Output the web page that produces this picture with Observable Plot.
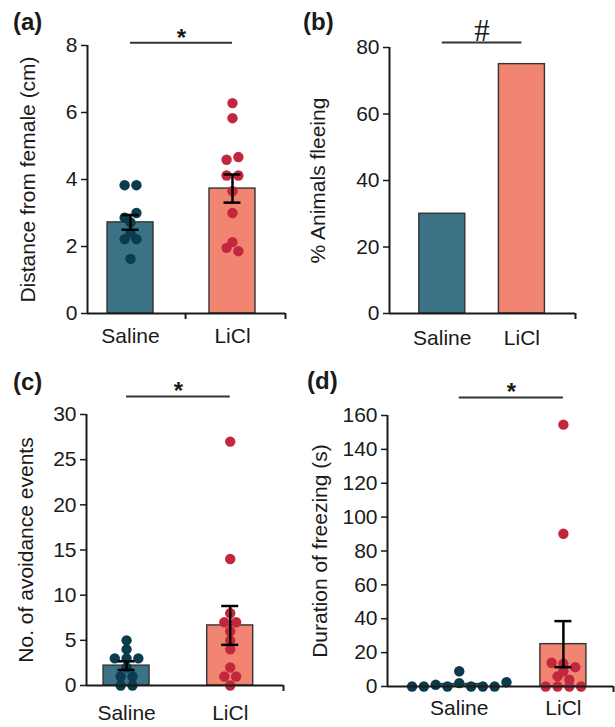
<!DOCTYPE html>
<html><head><meta charset="utf-8">
<script src="https://cdn.jsdelivr.net/npm/d3@7"></script>
<script src="https://cdn.jsdelivr.net/npm/@observablehq/plot@0.6"></script>
<style>
body{margin:0;background:#fff;}
#wrap{position:relative;width:615px;height:727px;font-family:"Liberation Sans",Arial,Helvetica,sans-serif;overflow:hidden;}
.panel{position:absolute;}
.letter{position:absolute;font-weight:bold;font-size:24px;line-height:24px;color:#1a1a1a;white-space:nowrap;}
</style></head><body><div id="wrap"></div>
<script>
// ---------- data ----------
const categories = ["Saline", "LiCl"];
const panelLetters = ["(a)", "(b)", "(c)", "(d)"];
const yAxisLabels = ["Distance from female (cm)", "% Animals fleeing", "No. of avoidance events", "Duration of freezing (s)"];
const yTicksA = [0, 2, 4, 6, 8];
const yTicksB = [0, 20, 40, 60, 80];
const yTicksC = [0, 5, 10, 15, 20, 25, 30];
const yTicksD = [0, 20, 40, 60, 80, 100, 120, 140, 160];

// (a) distance from female (cm)
const distanceSaline = [3.83, 3.83, 2.86, 3.0, 2.72, 2.22, 2.22, 2.40, 1.63];
const distanceLiCl = [6.28, 5.83, 4.59, 4.67, 4.12, 4.12, 3.65, 3.0, 2.13, 1.96, 1.86];
const distanceMean = [2.72, 3.73];
const distanceSem = [0.22, 0.42];

// (b) % animals fleeing
const fleeingPercent = [30, 75];

// (c) number of avoidance events
const avoidSaline = [5, 4, 3, 3, 3, 2, 1, 1, 0, 0];
const avoidLiCl = [27, 14, 8, 7, 7, 6, 5, 4, 2, 1, 1, 0];
const avoidMean = [2.2, 6.65];
const avoidSem = [0.48, 2.15];

// (d) duration of freezing (s)
const freezeSaline = [0, 0, 1, 0, 2, 0, 0, 0, 2.5, 9];
const freezeLiCl = [154.6, 90.2, 14, 13.4, 11.4, 9, 6, 4, 0, 0, 0, 0];
const freezeMean = [1.45, 25];
const freezeSem = [null, 13.6];

// significance annotations
const sigSymbols = ["*", "#", "*", "*"];
const sigLevels = [8.08, 81.5, 32, 170.6];

// ---------- styling / layout ----------
const barColors = ["#3b7286", "#f28572"];
const dotColors = ["#0a3c4d", "#c1283e"];
const FONT = '"Liberation Sans", Arial, Helvetica, sans-serif';

const panels = [
  {left: 0, top: 0, width: 300, height: 360, mL: 87, mR: 15, mT: 45, mB: 47,
   xDomain: [0.078, 2.02], yDomain: [0, 8], yTicks: yTicksA, labelDx: -59, xPad: 15,
   endTicks: [1.04, 2.02], mean: distanceMean, sem: distanceSem, points: [distanceSaline, distanceLiCl],
   letterPos: [13, 9.7], sigDy: 3},
  {left: 300, top: 0, width: 315, height: 360, mL: 89, mR: 40, mT: 47, mB: 47,
   xDomain: [-0.163, 2.173], yDomain: [0, 80], yTicks: yTicksB, labelDx: -71, xPad: 17,
   endTicks: [2.173], mean: fleeingPercent, sem: null, points: null,
   letterPos: [303, 9.7], sigDy: -1.5},
  {left: 0, top: 360, width: 300, height: 367, mL: 86, mR: 17, mT: 54, mB: 42,
   xDomain: [0.1135, 2.014], yDomain: [0, 30], yTicks: yTicksC, labelDx: -60, xPad: 20,
   endTicks: [2.014], mean: avoidMean, sem: avoidSem, points: [avoidSaline, avoidLiCl],
   letterPos: [13, 10], sigDy: 3},
  {left: 300, top: 360, width: 315, height: 367, mL: 87, mR: 2, mT: 55, mB: 41,
   xDomain: [-0.189, 1.981], yDomain: [0, 160], yTicks: yTicksD, labelDx: -67, xPad: 14,
   endTicks: [1.981], mean: freezeMean, sem: freezeSem, points: [freezeSaline, freezeLiCl],
   letterPos: [307, 8.5], sigDy: 2}
];

const catPos = [0.5, 1.5];
const BAR_HALF_PX = 23, CAP_HALF_PX = 8.5, DOT_R = 5.2, DOT_SPACING = 11.8, ROW_THRESH = 5;

function swarmOffsets(values, py) {
  const order = d3.range(values.length).sort((i, j) => values[j] - values[i] || i - j);
  const rows = [];
  let cur = null;
  for (const i of order) {
    const p = py(values[i]);
    if (cur && Math.abs(p - cur.start) <= ROW_THRESH) cur.items.push(i);
    else { cur = {start: p, items: [i]}; rows.push(cur); }
  }
  const off = new Array(values.length).fill(0);
  for (const r of rows) {
    r.items.sort((a, b) => a - b);
    const n = r.items.length;
    r.items.forEach((i, k) => { off[i] = (k - (n - 1) / 2) * DOT_SPACING; });
  }
  return off;
}

const wrap = document.getElementById("wrap");

panels.forEach((P, pi) => {
  const innerW = P.width - P.mL - P.mR;
  const ppu = innerW / (P.xDomain[1] - P.xDomain[0]);
  const yPx = d3.scaleLinear(P.yDomain, [P.height - P.mB, P.mT]);
  const bw = BAR_HALF_PX / ppu, cw = CAP_HALF_PX / ppu;
  const idx = [0, 1];
  const marks = [];

  // bars
  marks.push(Plot.rectY(idx, {
    x1: i => catPos[i] - bw, x2: i => catPos[i] + bw,
    y1: 0, y2: i => P.mean[i],
    fill: i => barColors[i], stroke: "#333", strokeWidth: 1.4
  }));

  // dots
  if (P.points) {
    const pts = [];
    P.points.forEach((vals, g) => {
      const off = swarmOffsets(vals, yPx);
      vals.forEach((v, k) => pts.push({g, v, off: off[k]}));
    });
    marks.push(Plot.dot(pts, {
      x: d => catPos[d.g] + d.off / ppu, y: "v", r: DOT_R,
      fill: d => dotColors[d.g], stroke: "none"
    }));
  }

  // axes lines
  marks.push(Plot.ruleY([0], {stroke: "#1a1a1a", strokeWidth: 2}));
  marks.push(Plot.ruleX([P.xDomain[0]], {stroke: "#1a1a1a", strokeWidth: 2}));

  // error bars
  if (P.sem) {
    const eidx = idx.filter(i => P.sem[i] != null);
    marks.push(Plot.ruleX(eidx, {
      x: i => catPos[i], y1: i => P.mean[i] - P.sem[i], y2: i => P.mean[i] + P.sem[i],
      stroke: "#000", strokeWidth: 2.5
    }));
    const caps = eidx.flatMap(i => [{i, y: P.mean[i] - P.sem[i]}, {i, y: P.mean[i] + P.sem[i]}]);
    marks.push(Plot.ruleY(caps, {
      x1: d => catPos[d.i] - cw, x2: d => catPos[d.i] + cw, y: "y",
      stroke: "#000", strokeWidth: 2.5
    }));
  }

  // significance bar + symbol
  marks.push(Plot.ruleY([sigLevels[pi]], {x1: catPos[0], x2: catPos[1], stroke: "#333", strokeWidth: 2}));
  const isHash = sigSymbols[pi] === "#";
  marks.push(Plot.text([sigSymbols[pi]], {
    x: () => (catPos[0] + catPos[1]) / 2, y: () => sigLevels[pi], text: d => d,
    lineAnchor: "bottom", dy: P.sigDy,
    fontSize: isHash ? 31 : 24, fontWeight: isHash ? "normal" : "bold",
    fontFamily: isHash ? '"Liberation Serif", "Times New Roman", serif' : FONT,
    fill: "#1a1a1a"
  }));

  // y axis ticks + labels
  marks.push(Plot.axisY({ticks: P.yTicks, tickSize: 6, tickPadding: 4, strokeWidth: 1.5,
    fontSize: 21, label: null, stroke: "#1a1a1a", fill: "#1a1a1a"}));
  // category labels
  marks.push(Plot.axisX({ticks: catPos, tickSize: 0, tickPadding: P.xPad, fontSize: 21,
    tickFormat: d => categories[catPos.indexOf(d)], label: null, fill: "#1a1a1a"}));
  // small ticks below x axis
  marks.push(Plot.axisX({ticks: P.endTicks, tickSize: 6, tickPadding: 0, strokeWidth: 2,
    tickFormat: () => "", label: null, stroke: "#1a1a1a"}));

  // y axis title
  marks.push(Plot.text([yAxisLabels[pi]], {
    frameAnchor: "left", rotate: -90, dx: P.labelDx, lineAnchor: "middle", textAnchor: "middle",
    text: d => d, fontSize: 21, fill: "#1a1a1a"
  }));

  const svg = Plot.plot({
    width: P.width, height: P.height,
    marginLeft: P.mL, marginRight: P.mR, marginTop: P.mT, marginBottom: P.mB,
    x: {domain: P.xDomain, label: null},
    y: {domain: P.yDomain, label: null},
    color: {type: "identity"},
    style: {fontFamily: FONT, fontSize: "21px", color: "#1a1a1a", background: "transparent", overflow: "visible"},
    marks
  });
  const div = document.createElement("div");
  div.className = "panel";
  div.style.left = P.left + "px";
  div.style.top = P.top + "px";
  div.appendChild(svg);
  wrap.appendChild(div);

  const lab = document.createElement("div");
  lab.className = "letter";
  lab.style.left = P.letterPos[0] + "px";
  lab.style.top = (P.top + P.letterPos[1]) + "px";
  lab.textContent = panelLetters[pi];
  wrap.appendChild(lab);
});
</script>
</body></html>
